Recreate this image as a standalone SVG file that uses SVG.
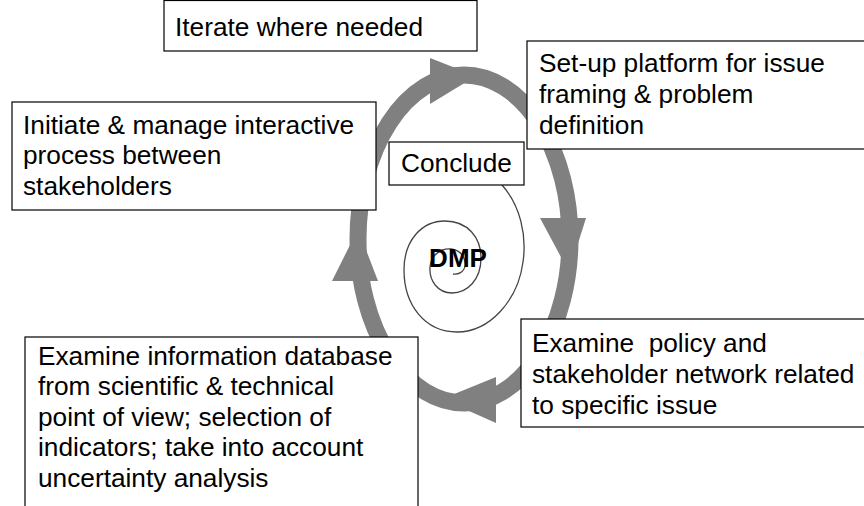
<svg xmlns="http://www.w3.org/2000/svg" width="864" height="506" viewBox="0 0 864 506">
<style>
.box{fill:#fff;stroke:#000;stroke-width:1.2}
.t{font-family:"Liberation Sans",Arial,sans-serif;font-size:25px;fill:#000}
.b{font-family:"Liberation Sans",Arial,sans-serif;font-size:26px;font-weight:bold;fill:#000}
.ring{fill:none;stroke:#808080;stroke-width:17}
.head{fill:#808080}
.spiral{fill:none;stroke:#444;stroke-width:1.3}
</style>
<rect width="864" height="506" fill="#fff"/>
<g id="connectors">
  <ellipse class="ring" cx="464" cy="239" rx="106" ry="164"/>
  <polygon class="head" points="430,58 430,104 476,76"/>
  <polygon class="head" points="540,218 586,218 569,272"/>
  <polygon class="head" points="496,377 496,423 442,399"/>
  <polygon class="head" points="332,281 378,281 358,229"/>
  <path class="spiral" d="M502,185 C520,205 527,235 523,262 C518,300 490,332 457,332 C425,332 404,305 404,270 C404,240 422,221 445,221 C468,221 481,238 481,258 C481,280 467,293 452,293 C438,293 429,281 430,267 C431,255 441,248 451,249 C461,250 466,258 465,266 C464,272 458,275 453,274"/>
</g>
<g id="iterate">
  <rect class="box" x="164" y="0.5" width="313" height="50.5"/>
  <text class="t" transform="translate(175,36) scale(1.05,1)">Iterate where needed</text>
</g>
<g id="setup">
  <rect class="box" x="527" y="41" width="345" height="108"/>
  <text class="t" transform="translate(539,72) scale(1.05,1)"><tspan x="0" y="0">Set-up platform for issue</tspan><tspan x="0" y="31">framing &amp; problem</tspan><tspan x="0" y="62">definition</tspan></text>
</g>
<g id="initiate">
  <rect class="box" x="12" y="102" width="364" height="108"/>
  <text class="t" transform="translate(23,134) scale(1.05,1)"><tspan x="0" y="0">Initiate &amp; manage interactive</tspan><tspan x="0" y="30.5">process between</tspan><tspan x="0" y="61">stakeholders</tspan></text>
</g>
<g id="conclude">
  <rect class="box" x="389" y="142" width="135" height="43"/>
  <text class="t" transform="translate(401,172) scale(1.05,1)">Conclude</text>
</g>
<g id="dmp">
  <text class="b" x="458" y="267" text-anchor="middle">DMP</text>
</g>
<g id="policy">
  <rect class="box" x="521" y="319" width="350" height="108"/>
  <text class="t" style="white-space:pre" transform="translate(532,352) scale(1.05,1)"><tspan x="0" y="0">Examine  policy and</tspan><tspan x="0" y="31">stakeholder network related</tspan><tspan x="0" y="62">to specific issue</tspan></text>
</g>
<g id="information">
  <rect class="box" x="25" y="337" width="393" height="180"/>
  <text class="t" transform="translate(38,365) scale(1.05,1)"><tspan x="0" y="0">Examine information database</tspan><tspan x="0" y="30.5">from scientific &amp; technical</tspan><tspan x="0" y="61">point of view; selection of</tspan><tspan x="0" y="91.5">indicators; take into account</tspan><tspan x="0" y="122">uncertainty analysis</tspan></text>
</g>
</svg>
